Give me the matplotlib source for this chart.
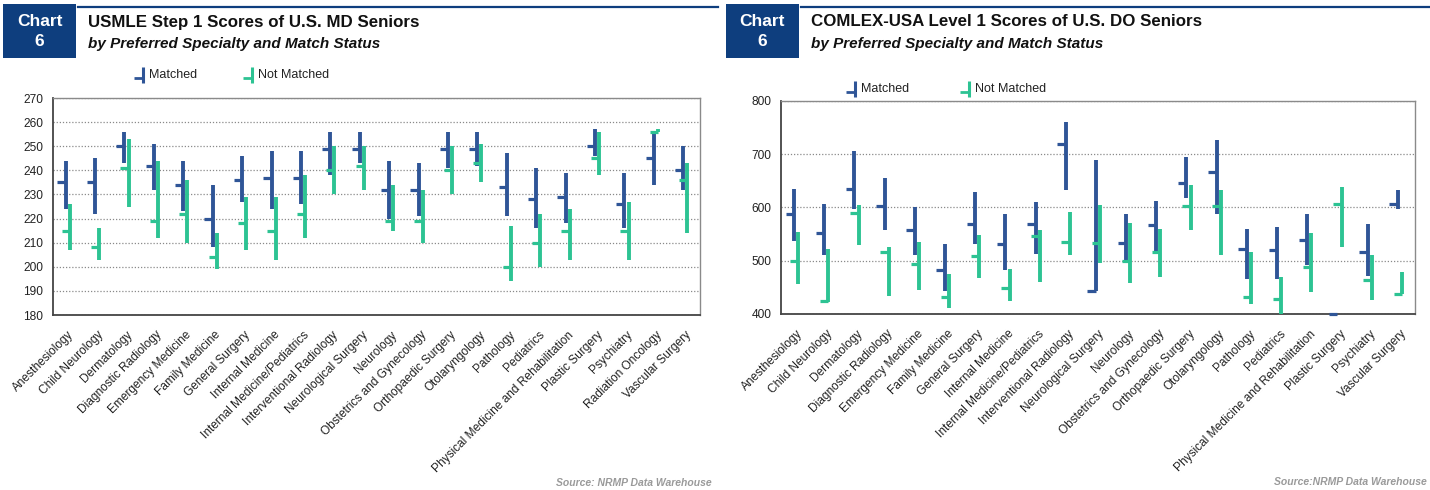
import matplotlib
matplotlib.use("Agg")
import matplotlib.pyplot as plt
from matplotlib.lines import Line2D
from matplotlib.patches import Rectangle

plt.rcParams['font.family'] = ['Liberation Sans', 'DejaVu Sans']

MATCHED_COLOR = '#2F5597'
NOT_MATCHED_COLOR = '#2DC393'
NAVY = '#0E3E7E'

# USMLE Step 1, U.S. MD seniors
md_specialties = [
    'Anesthesiology', 'Child Neurology', 'Dermatology', 'Diagnostic Radiology',
    'Emergency Medicine', 'Family Medicine', 'General Surgery', 'Internal Medicine',
    'Internal Medicine/Pediatrics', 'Interventional Radiology', 'Neurological Surgery',
    'Neurology', 'Obstetrics and Gynecology', 'Orthopaedic Surgery', 'Otolaryngology',
    'Pathology', 'Pediatrics', 'Physical Medicine and Rehabilitation', 'Plastic Surgery',
    'Psychiatry', 'Radiation Oncology', 'Vascular Surgery',
]
md_matched_high = [244, 245, 256, 251, 244, 234, 246, 248, 248, 256, 256,
                   244, 243, 256, 256, 247, 241, 239, 257, 239, 256, 250]
md_matched_low = [224, 222, 243, 232, 223, 208, 227, 224, 226, 238, 243,
                  220, 221, 241, 242, 221, 216, 218, 246, 216, 234, 232]
md_matched_mid = [235, 235, 250, 242, 234, 220, 236, 237, 237, 249, 249,
                  232, 232, 249, 249, 233, 228, 229, 250, 226, 245, 240]
md_not_high = [226, 216, 253, 244, 236, 214, 229, 229, 238, 250, 250,
               234, 232, 250, 251, 217, 222, 224, 256, 227, 257, 243]
md_not_low = [207, 203, 225, 212, 210, 199, 207, 203, 212, 230, 232,
              215, 210, 230, 235, 194, 200, 203, 238, 203, 256, 214]
md_not_mid = [215, 208, 241, 219, 222, 204, 218, 215, 222, 240, 242,
              219, 219, 240, 243, 200, 210, 215, 245, 215, 256, 236]

# COMLEX-USA Level 1, U.S. DO seniors
do_specialties = [
    'Anesthesiology', 'Child Neurology', 'Dermatology', 'Diagnostic Radiology',
    'Emergency Medicine', 'Family Medicine', 'General Surgery', 'Internal Medicine',
    'Internal Medicine/Pediatrics', 'Interventional Radiology', 'Neurological Surgery',
    'Neurology', 'Obstetrics and Gynecology', 'Orthopaedic Surgery', 'Otolaryngology',
    'Pathology', 'Pediatrics', 'Physical Medicine and Rehabilitation', 'Plastic Surgery',
    'Psychiatry', 'Vascular Surgery',
]
do_matched_high = [635, 606, 706, 656, 601, 531, 630, 588, 610, 760, 689,
                   588, 613, 694, 726, 559, 564, 587, 400, 569, 632]
do_matched_low = [538, 511, 598, 558, 511, 444, 531, 483, 513, 632, 444,
                  499, 518, 618, 588, 466, 466, 492, 400, 472, 597]
do_matched_mid = [588, 552, 635, 603, 557, 483, 569, 531, 569, 719, 444,
                  533, 567, 646, 667, 523, 521, 539, 400, 516, 606]
do_not_high = [554, 523, 604, 526, 535, 475, 548, 484, 558, 591, 604,
               571, 560, 642, 632, 516, 469, 552, 639, 511, 479]
do_not_low = [457, 423, 530, 434, 446, 411, 468, 425, 461, 511, 496,
              458, 470, 558, 511, 419, 400, 442, 525, 427, 438]
do_not_mid = [500, 424, 589, 516, 493, 432, 509, 448, 546, 536, 533,
              499, 516, 602, 602, 431, 429, 488, 607, 464, 438]

OFFSET = 0.07   # half the gap between the two series inside one category
TICK = 0.28     # length of the median tick, in category units


def draw_series(ax, hi, lo, mid, dx, color):
    """High-low line with a median tick on the left side."""
    xs = [i + dx for i in range(len(hi))]
    ax.vlines(xs, lo, hi, colors=color, linewidth=2.8, capstyle='butt', zorder=3)
    ax.hlines(mid, [x - TICK for x in xs], xs, colors=color, linewidth=2.3,
              capstyle='butt', zorder=3, clip_on=False)


def draw_panel(ax, names, m_hi, m_lo, m_mid, n_hi, n_lo, n_mid, ylim, step):
    draw_series(ax, m_hi, m_lo, m_mid, -OFFSET, MATCHED_COLOR)
    draw_series(ax, n_hi, n_lo, n_mid, OFFSET, NOT_MATCHED_COLOR)
    ax.set_xlim(-0.5, len(names) - 0.5)
    ax.set_ylim(*ylim)
    ax.set_yticks(range(ylim[0], ylim[1] + 1, step))
    ax.set_xticks(range(len(names)))
    ax.set_xticklabels(names, rotation=45, ha='right', rotation_mode='anchor',
                       fontsize=8.6, color='#222222')
    ax.tick_params(axis='both', length=0, labelsize=8.6, colors='#222222')
    ax.tick_params(axis='x', pad=10)
    ax.tick_params(axis='y', pad=7)
    ax.yaxis.grid(True, linestyle=(0, (1, 1.5)), color='#8a8a8a', linewidth=0.9)
    ax.set_axisbelow(True)
    for side in ['left', 'bottom']:
        ax.spines[side].set_color('#444444')
        ax.spines[side].set_linewidth(1.3)
    for side in ['top', 'right']:
        ax.spines[side].set_color('#8a8a8a')
        ax.spines[side].set_linewidth(1.0)


def px(x, y):
    """Figure pixel position (origin top-left) to figure fraction."""
    return x / 1430, 1 - y / 490


def header(fig, x0, line_end, title):
    bx, by = px(x0, 58)
    fig.add_artist(Rectangle((bx, by), 73 / 1430, 54 / 490, transform=fig.transFigure,
                             facecolor=NAVY, edgecolor='none'))
    fig.text(*px(x0 + 36.5, 22), 'Chart', color='white', fontsize=12.5,
             fontweight='bold', ha='center', va='center')
    fig.text(*px(x0 + 36.5, 42), '6', color='white', fontsize=12.5,
             fontweight='bold', ha='center', va='center')
    lx0, ly = px(x0 + 75, 7)
    lx1, _ = px(line_end, 7)
    fig.add_artist(Line2D([lx0, lx1], [ly, ly], color=NAVY, linewidth=1.6,
                          transform=fig.transFigure))
    fig.text(*px(x0 + 85, 22), title, fontsize=12.2, fontweight='bold',
             color='#111111', va='center')
    fig.text(*px(x0 + 85, 44), 'by Preferred Specialty and Match Status', fontsize=11,
             fontweight='bold', fontstyle='italic', color='#111111', va='center')


def legend_item(fig, x, y, color, label):
    # vertical stroke with a tick on the left, like the series marks
    x_, y0 = px(x, y - 8)
    _, y1 = px(x, y + 8)
    xt, yt = px(x - 9, y + 3)
    fig.add_artist(Line2D([x_, x_], [y0, y1], color=color, linewidth=2.2,
                          solid_capstyle='butt', transform=fig.transFigure))
    fig.add_artist(Line2D([xt, x_], [yt, yt], color=color, linewidth=2.0,
                          solid_capstyle='butt', transform=fig.transFigure))
    fig.text(*px(x + 6, y), label, fontsize=9, color='#222222', va='center')


fig = plt.figure(figsize=(14.3, 4.9), dpi=100)

ax1 = fig.add_axes([53 / 1430, 1 - 315 / 490, 647 / 1430, 217 / 490])
draw_panel(ax1, md_specialties, md_matched_high, md_matched_low, md_matched_mid,
           md_not_high, md_not_low, md_not_mid, (180, 270), 10)

ax2 = fig.add_axes([781 / 1430, 1 - 314 / 490, 634 / 1430, 213 / 490])
draw_panel(ax2, do_specialties, do_matched_high, do_matched_low, do_matched_mid,
           do_not_high, do_not_low, do_not_mid, (400, 800), 100)

header(fig, 3, 718, 'USMLE Step 1 Scores of U.S. MD Seniors')
header(fig, 726, 1430, 'COMLEX-USA Level 1 Scores of U.S. DO Seniors')

legend_item(fig, 143, 75, MATCHED_COLOR, 'Matched')
legend_item(fig, 252, 75, NOT_MATCHED_COLOR, 'Not Matched')
legend_item(fig, 855, 89, MATCHED_COLOR, 'Matched')
legend_item(fig, 969, 89, NOT_MATCHED_COLOR, 'Not Matched')

fig.text(*px(712, 483), 'Source: NRMP Data Warehouse', fontsize=7.5, fontweight='bold',
         fontstyle='italic', color='#9a9a9a', ha='right', va='center')
fig.text(*px(1427, 482), 'Source:NRMP Data Warehouse', fontsize=7.5, fontweight='bold',
         fontstyle='italic', color='#9a9a9a', ha='right', va='center')

fig.savefig('out.png', dpi=100)
